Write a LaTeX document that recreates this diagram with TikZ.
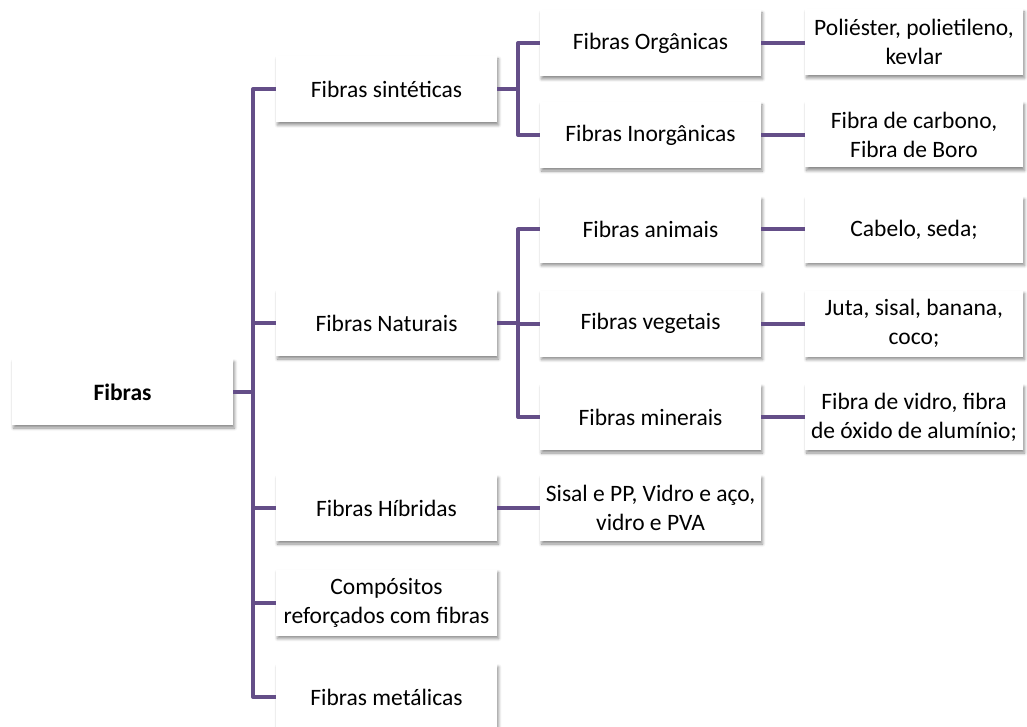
\documentclass[tikz,border=0pt]{standalone}
\usepackage{fontspec}
\setmainfont{Carlito}
\usetikzlibrary{shadows.blur}
\definecolor{lineviolet}{RGB}{100,78,136}
\begin{document}
\begin{tikzpicture}[x=1pt,y=-1pt,
  box/.style={fill=white, minimum width=221pt, minimum height=66pt, inner sep=0pt, align=center,
    font=\fontsize{23.5}{29}\selectfont,
    blur shadow={shadow xshift=1.5pt, shadow yshift=-3pt, shadow blur radius=3pt, shadow blur steps=6, shadow opacity=45}},
  leafbox/.style={box, minimum width=218pt},
  conn/.style={draw=lineviolet, line width=4pt, line join=round}]
\useasboundingbox (0,0) rectangle (1027,727);
% junction coordinates
\coordinate (j0) at (253,392);
\coordinate (j1) at (518,89);
\coordinate (j2) at (518,323);
% level 0
\node[box, font=\fontsize{23.5}{29}\selectfont\bfseries] (fib) at (122.5,392) {Fibras};
% level 1
\node[box] (sint) at (386.5,89) {Fibras sintéticas};
\node[box] (nat) at (386.5,323) {Fibras Naturais};
\node[box] (hib) at (386.5,508) {Fibras Híbridas};
\node[box] (comp) at (386.5,602.5) {Compósitos\\reforçados com fibras};
\node[box] (met) at (386.5,697) {Fibras metálicas};
% level 2
\node[box] (org) at (650.5,43) {Fibras Orgânicas};
\node[box] (inorg) at (650.5,135) {Fibras Inorgânicas};
\node[box] (ani) at (650.5,229.5) {Fibras animais};
\node[box] (veg) at (650.5,323.5) {Fibras vegetais};
\node[box] (min) at (650.5,417) {Fibras minerais};
\node[box] (sisal) at (650.5,508) {Sisal e PP, Vidro e aço,\\vidro e PVA};
% level 3
\node[leafbox] (poli) at (914,42) {Poliéster, polietileno,\\kevlar};
\node[leafbox] (carb) at (914,134.5) {Fibra de carbono,\\Fibra de Boro};
\node[leafbox] (cab) at (914,229.5) {Cabelo, seda;};
\node[leafbox] (juta) at (914,323.5) {Juta, sisal, banana,\\coco;};
\node[leafbox] (vidro) at (914,417) {Fibra de vidro, fibra\\de óxido de alumínio;};
% connectors level 0 -> 1
\draw[conn] (fib.east) -- (j0);
\draw[conn] (j0) |- (sint.west);
\draw[conn] (j0) |- (nat.west);
\draw[conn] (j0) |- (hib.west);
\draw[conn] (j0) |- (comp.west);
\draw[conn] (j0) |- (met.west);
% level 1 -> 2
\draw[conn] (sint.east) -- (j1);
\draw[conn] (j1) |- (org.west);
\draw[conn] (j1) |- (inorg.west);
\draw[conn] (nat.east) -- (j2);
\draw[conn] (j2) |- (ani.west);
\draw[conn] (j2) |- (veg.west);
\draw[conn] (j2) |- (min.west);
\draw[conn] (hib.east) -- (sisal.west);
% level 2 -> 3
\draw[conn] (org.east) -- (org.east -| poli.west);
\draw[conn] (inorg.east) -- (inorg.east -| carb.west);
\draw[conn] (ani.east) -- (ani.east -| cab.west);
\draw[conn] (veg.east) -- (veg.east -| juta.west);
\draw[conn] (min.east) -- (min.east -| vidro.west);
\end{tikzpicture}
\end{document}
